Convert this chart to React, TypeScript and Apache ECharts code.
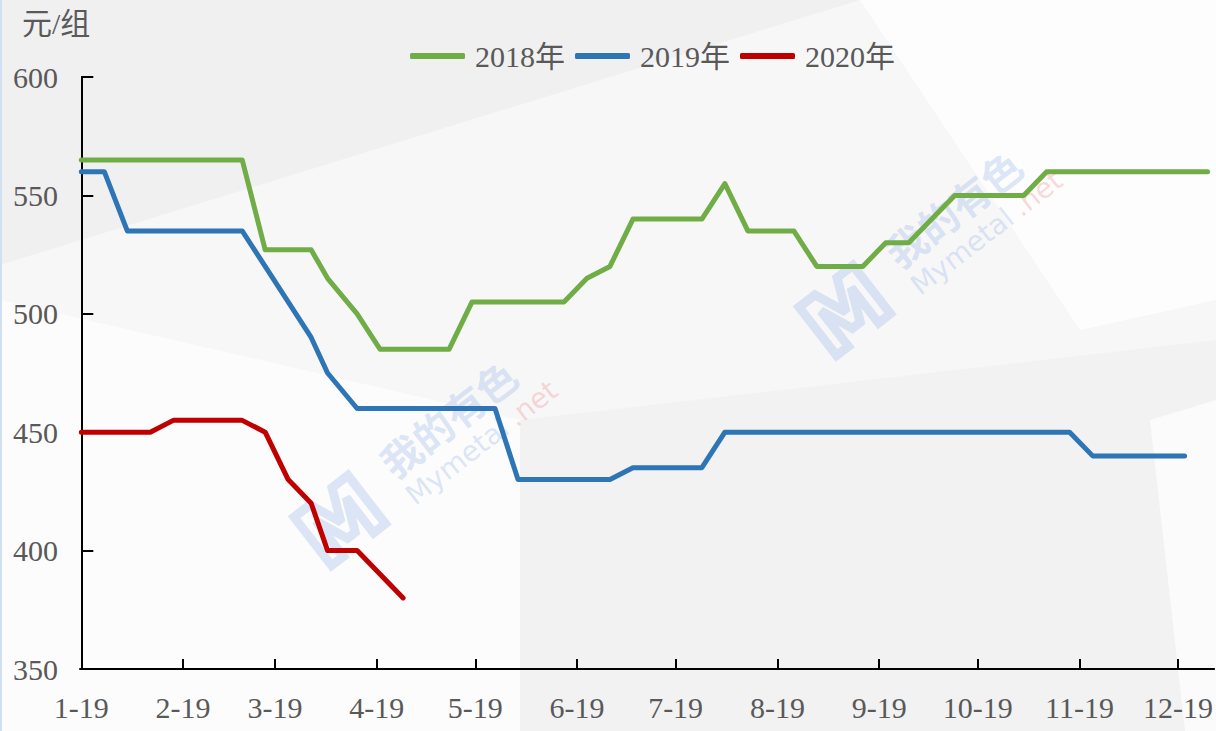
import React, { useEffect, useRef } from "react";
import * as echarts from "echarts";

// Week dates (2019 calendar used for the shared axis)
const weekDates = [
  "01-19", "01-26", "02-02", "02-09", "02-16", "02-23", "03-02", "03-09", "03-16", "03-23",
  "03-30", "04-04", "04-13", "04-20", "04-27", "05-04", "05-11", "05-18", "05-25", "06-01",
  "06-08", "06-15", "06-22", "06-29", "07-06", "07-13", "07-20", "07-27", "08-03", "08-10",
  "08-17", "08-24", "08-31", "09-07", "09-14", "09-21", "09-28", "10-05", "10-12", "10-19",
  "10-26", "11-02", "11-09", "11-16", "11-23", "11-30", "12-07", "12-14", "12-21", "12-28",
];

const values2018 = [
  565, 565, 565, 565, 565, 565, 565, 565, 527, 527,
  527, 515, 500, 485, 485, 485, 485, 505, 505, 505,
  505, 505, 515, 520, 540, 540, 540, 540, 555, 535,
  535, 535, 520, 520, 520, 530, 530, 540, 550, 550,
  550, 550, 560, 560, 560, 560, 560, 560, 560, 560,
];

const values2019 = [
  560, 560, 535, 535, 535, 535, 535, 535, 520, 505,
  490, 475, 460, 460, 460, 460, 460, 460, 460, 430,
  430, 430, 430, 430, 435, 435, 435, 435, 450, 450,
  450, 450, 450, 450, 450, 450, 450, 450, 450, 450,
  450, 450, 450, 450, 440, 440, 440, 440, 440,
];

const values2020 = [450, 450, 450, 450, 455, 455, 455, 455, 450, 430, 420, 400, 400, 390, 380];

const seriesNames = ["2018年", "2019年", "2020年"];
const seriesColors = ["#70AD47", "#2E75B6", "#C00000"];

const monthTicks = ["01-19", "02-19", "03-19", "04-19", "05-19", "06-19", "07-19", "08-19", "09-19", "10-19", "11-19", "12-19"];
const monthLabels = ["1-19", "2-19", "3-19", "4-19", "5-19", "6-19", "7-19", "8-19", "9-19", "10-19", "11-19", "12-19"];

const yUnit = "元/组";

const dayOf = (md: string) => {
  const [m, d] = md.split("-").map(Number);
  return Math.round((Date.UTC(2019, m - 1, d) - Date.UTC(2019, 0, 19)) / 86400000);
};

const FONT = "'Liberation Serif', 'Noto Sans CJK SC', serif";
const TEXT_COLOR = "#595959";

function watermark(cx: number, cy: number) {
  const blue = "rgba(165,192,235,0.38)";
  return {
    type: "group",
    x: cx,
    y: cy,
    rotation: 0.66,
    z: -5,
    children: [
      {
        type: "text",
        x: -150,
        y: -48,
        style: {
          text: "M",
          font: "bold 84px 'DejaVu Sans', sans-serif",
          fill: "rgba(255,255,255,0)",
          stroke: blue,
          lineWidth: 9,
        },
      },
      {
        type: "text",
        x: -40,
        y: -42,
        style: {
          text: "我的有色",
          font: "bold 40px 'Noto Sans CJK SC', sans-serif",
          fill: blue,
        },
      },
      {
        type: "text",
        x: -40,
        y: 4,
        style: {
          text: "Mymetal",
          font: "28px 'DejaVu Sans', sans-serif",
          fill: blue,
        },
      },
      {
        type: "text",
        x: 88,
        y: 4,
        style: {
          text: ".net",
          font: "28px 'DejaVu Sans', sans-serif",
          fill: "rgba(240,150,150,0.35)",
        },
      },
    ],
  };
}

export default function App() {
  const ref = useRef<HTMLDivElement>(null);

  useEffect(() => {
    if (!ref.current) return;
    const chart = echarts.init(ref.current, null, { renderer: "svg" });
    const tickDays = monthTicks.map(dayOf);
    const toPairs = (vals: number[]) => vals.map((v, i) => [dayOf(weekDates[i]), v]);
    const allValues = [values2018, values2019, values2020];

    const option: any = {
      animation: false,
      backgroundColor: "#f7f7f7",
      textStyle: { fontFamily: FONT },
      grid: { left: 80, right: 0, top: 77, bottom: 62, containLabel: false },
      legend: {
        data: seriesNames,
        left: 405,
        top: 36,
        icon: "roundRect",
        itemWidth: 55,
        itemHeight: 6,
        itemGap: 10,
        textStyle: { fontSize: 30, color: TEXT_COLOR, fontFamily: FONT, padding: [0, 0, 0, 5] },
      },
      xAxis: {
        type: "value",
        min: -0.4,
        max: 345,
        axisLine: { show: true, onZero: false, lineStyle: { color: "#000", width: 2 } },
        axisTick: { show: true, inside: true, length: 10, customValues: tickDays, lineStyle: { color: "#000", width: 2 } },
        axisLabel: {
          customValues: tickDays,
          formatter: (v: number) => {
            const idx = tickDays.indexOf(Math.round(v));
            return idx >= 0 ? monthLabels[idx] : "";
          },
          margin: 23,
          fontSize: 30,
          color: TEXT_COLOR,
          fontFamily: FONT,
        },
        splitLine: { show: false },
      },
      yAxis: {
        type: "value",
        min: 350,
        max: 600,
        interval: 50,
        axisLine: { show: true, lineStyle: { color: "#000", width: 2 } },
        axisTick: { show: true, inside: true, length: 12, lineStyle: { color: "#000", width: 2 } },
        axisLabel: { margin: 22, fontSize: 30, color: TEXT_COLOR, fontFamily: FONT },
        splitLine: { show: false },
      },
      series: seriesNames.map((name, i) => ({
        name,
        type: "line",
        data: toPairs(allValues[i]),
        symbol: "none",
        z: 5,
        lineStyle: { color: seriesColors[i], width: 5, cap: "round", join: "round" },
        itemStyle: { color: seriesColors[i] },
      })),
      graphic: [
        { type: "polygon", z: -20, shape: { points: [[0, 0], [860, 0], [0, 265]] }, style: { fill: "#f0f0f0" } },
        { type: "polygon", z: -20, shape: { points: [[860, 0], [1216, 0], [1216, 300], [1080, 330]] }, style: { fill: "#fdfdfd" } },
        { type: "polygon", z: -20, shape: { points: [[0, 300], [520, 420], [520, 731], [0, 731]] }, style: { fill: "#fcfcfc" } },
        { type: "polygon", z: -20, shape: { points: [[520, 420], [1216, 340], [1216, 731], [520, 731]] }, style: { fill: "#f2f2f2" } },
        { type: "polygon", z: -19, shape: { points: [[1150, 420], [1216, 400], [1216, 731], [1185, 731]] }, style: { fill: "#fbfbfb" } },
        { type: "rect", z: -19, shape: { x: 0, y: 0, width: 2, height: 731 }, style: { fill: "#cfe0f3" } },
        {
          type: "text",
          left: 22,
          top: 8,
          style: { text: yUnit, font: `30px ${FONT}`, fill: TEXT_COLOR },
        },
        watermark(430, 460),
        watermark(935, 250),
      ],
    };
    chart.setOption(option);
    return () => chart.dispose();
  }, []);

  return (
    <div
      ref={ref}
      style={{ position: "fixed", left: 0, top: 0, width: 1216, height: 731 }}
    />
  );
}
